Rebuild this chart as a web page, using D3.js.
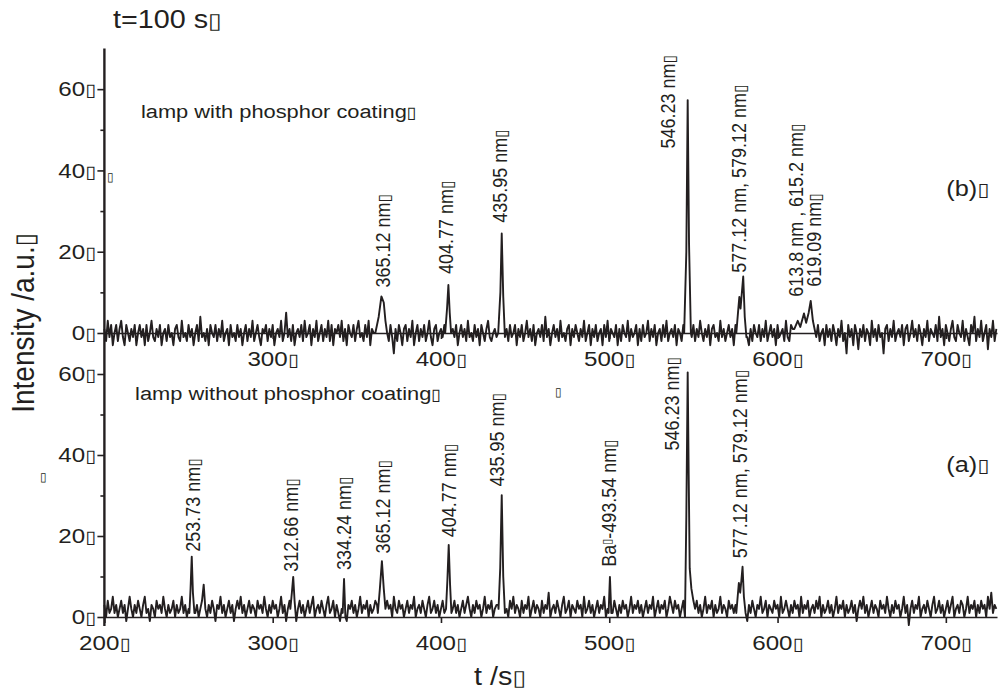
<!DOCTYPE html>
<html>
<head>
<meta charset="utf-8">
<script src="https://cdn.jsdelivr.net/npm/d3@7"></script>
<style>
  body { margin: 0; background: #fff; }
  svg { display: block; }
  text { font-family: "Liberation Sans", Arial, Helvetica, sans-serif; fill: #231f20; }
</style>
</head>
<body>
<svg id="chart" width="1003" height="690"></svg>
<script>
// noise baseline, one value per second starting at tStart
var tStart = 200;

var noiseB = [
  1,-2,3,-1,2,-3,0,2,-2,1,   3,-1,-3,2,0,-2,1,-1,2,-3,   0,2,-1,1,-3,2,-2,0,3,-1,
  -2,1,-1,2,-3,0,1,-2,2,-1,  0,-3,1,2,-1,-2,3,-1,0,-2,   2,-1,1,-3,0,2,-2,4,-1,0,
  -2,1,-3,2,0,-1,2,-2,1,-1,  3,-2,0,1,-3,2,-1,0,-2,2,    -1,1,-3,0,2,-2,1,-1,3,-2,
  0,2,-1,-3,1,0,2,-2,1,-1,   2,-3,0,1,-1,3,-2,0,5,-1,    1,-2,2,-3,0,1,-1,2,-2,3,
  -1,0,2,-3,1,-1,3,-2,0,2,   -2,1,-1,3,-2,2,-3,1,0,2,    -1,3,-2,1,-3,2,0,-1,2,-2,
  1,3,-1,0,-2,2,-1,3,-3,1,   0,2,1,3,4,4,3,1,1,-2,       2,-1,-5,1,-2,2,0,-3,1,2,
  -2,1,-1,3,-3,0,2,-2,1,-1,  2,-2,0,3,-1,-3,1,2,-2,0,    1,-1,2,0,5,3,-2,1,-1,2,
  -3,0,2,-1,1,-2,3,-1,0,-2,  2,-1,1,-3,2,0,-2,1,3,-1,    -2,0,1,-1,-3,2,6,3,-1,1,
  -2,2,-1,0,2,-3,1,-1,2,-2,  0,3,-1,1,-2,2,-3,0,1,-1,    2,-2,4,-1,1,-3,0,2,-1,1,
  -2,3,-1,0,-2,1,2,-3,1,-1,  2,0,-2,1,-1,3,-2,0,2,-3,    1,-1,2,-2,0,1,-3,2,-1,3,
  -2,1,0,-1,2,-3,1,-2,2,0,   -1,3,-2,1,-1,0,2,-3,1,-2,   2,-1,0,3,-2,1,-1,2,-3,0,
  1,-2,2,-1,3,-2,0,1,-1,2,   -3,1,0,-2,2,-1,3,2,1,-1,    2,-2,1,-1,3,0,-2,1,-1,2,
  -3,1,2,-1,0,-2,3,-1,1,-2,  0,2,-1,1,-3,2,0,1,2,3,      4,2,-1,-3,1,-2,2,0,-1,2,
  -2,1,-1,3,-2,0,2,-1,1,-3,  2,-1,0,1,-2,3,-1,-2,2,1,    0,2,3,2,4,5,3,2,4,7,
  6,3,1,-1,2,-2,0,1,-3,2,    -1,1,-2,2,0,-3,1,-1,3,-2,   0,-5,2,-1,1,-3,2,0,-4,1,
  -1,2,-2,1,0,-3,3,-1,1,-2,  2,-1,0,-5,1,2,-2,1,-1,3,    -2,0,1,-1,2,-3,1,2,-2,0,
  3,-1,1,-2,2,0,-3,1,-1,3,   -2,1,0,-1,2,-2,4,-1,1,-3,   2,0,-2,1,3,-1,-2,2,0,-1,
  3,-2,1,-1,-3,2,0,4,-2,1,   -1,3,-2,0,2,-4,1,-1,3,-2,   1
];

var noiseA = [
  3,0,4,1,2,5,1,3,0,2,       4,1,3,-1,2,5,2,0,3,1,       4,2,0,3,5,1,2,-1,3,2,
  0,4,2,3,1,5,2,0,3,1,       2,4,0,3,1,2,5,1,3,0,        2,4,3,3,1,3,0,2,4,8,
  2,0,3,1,4,2,-1,3,2,5,      1,3,0,2,4,1,3,-1,2,4,       2,5,1,3,0,2,4,1,3,2,
  0,4,2,3,1,5,2,0,3,1,       4,2,3,0,2,5,1,3,-1,2,       4,1,3,3,-2,2,4,1,3,0,
  2,4,1,3,5,0,2,3,1,4,       2,0,3,5,1,2,4,0,3,1,        -1,2,3,1,-1,3,2,4,1,3,
  0,2,5,1,3,2,4,0,3,1,       2,4,3,3,4,3,3,1,4,2,        3,0,5,2,1,4,2,3,0,2,
  4,1,3,2,5,0,2,3,1,4,       2,0,3,5,1,2,4,1,3,0,        2,4,1,3,3,3,3,2,4,1,
  3,0,2,4,1,3,5,2,0,3,       1,4,2,3,0,2,5,1,3,2,        4,0,2,3,3,3,4,1,3,2,
  0,4,2,5,1,3,2,0,4,1,       3,2,5,0,2,4,1,3,2,0,        4,1,3,2,6,0,2,3,1,4,
  2,0,3,5,1,2,4,0,3,2,       1,4,2,3,0,5,1,2,4,1,        3,0,2,4,1,3,2,5,0,2,
  3,3,1,4,2,0,3,1,4,2,       3,0,2,5,1,3,2,4,1,3,        0,2,4,1,3,2,5,0,2,4,
  1,3,2,4,0,2,5,3,1,4,       2,3,0,2,4,-2,3,3,3,6,       3,2,4,1,3,0,2,5,1,3,
  2,4,0,3,1,2,5,1,3,2,       0,4,2,3,1,3,5,3,3,3,        4,2,-1,3,1,4,2,0,3,2,
  5,1,2,4,0,3,2,1,4,2,       3,0,5,1,2,4,2,0,3,1,        4,2,3,0,5,1,3,2,4,0,
  2,3,1,4,2,5,0,3,1,2,       4,1,3,0,2,5,1,3,2,4,        0,3,1,2,4,1,3,-1,2,4,
  2,5,1,3,0,2,4,1,3,2,       0,4,2,3,1,5,2,0,3,1,        4,2,3,0,2,5,1,3,-2,2,
  4,1,3,2,5,0,2,3,1,4,       2,0,3,5,1,2,4,1,3,0,        2,4,1,3,5,0,2,3,1,4,
  3,0,2,5,1,3,2,4,0,3,       1,4,2,3,0,5,2,6,1,3,        2
];

// emission lines, [t, intensity] points that replace the baseline around them
var peaksB = [
  [[361,0],[363,4],[364.6,9],[366,7.5],[367,3],[368,0]],
  [[402.5,0],[403.6,6],[404.4,11.8],[405.2,5],[406,0]],
  [[434,0],[435.3,10],[436.1,24.5],[437,9],[438,-1]],
  [[544.5,0],[545.8,20],[546.6,57.3],[547.4,22],[548.5,0]],
  [[575.5,0],[576.5,5],[577.3,8.9],[578,6],[579.6,13.9],[580.5,4],[581.5,-1]],
  [[610,1],[612,3],[613.5,1.5],[615.7,4.8],[617,2.5],[618.5,5],[619.7,7.9],[621,3],[622.5,0]]
];

var peaksA = [
  [[250.5,1],[251.2,7],[251.9,14.9],[252.6,6],[253.5,1]],
  [[310.5,2],[311.4,6],[312.2,9.9],[313,4],[314,-1]],
  [[341.6,1],[342.4,9.4],[343.2,0]],
  [[362.5,1],[363.7,7],[364.9,13.8],[366,7],[367,2]],
  [[403,2],[403.8,9],[404.6,17.8],[405.4,8],[406.2,1]],
  [[434.2,2],[435.2,12],[436.1,30.1],[437,10],[438,1]],
  [[499.6,1],[500.4,9.9],[501.2,1]],
  [[545,0],[545.8,25],[546.6,60.4],[547.2,35],[547.8,12],[548.8,7],[550,4]],
  [[575.5,1],[576.3,5],[577,8.4],[577.8,6],[578.5,9],[579.2,12.4],[580,5],[581,1]]
];

// peak labels: text, t and intensity where the rotated text starts
var labelsB = [
  ["365.12 nm", 369.7, 11.2],
  ["404.77 nm", 407.1, 14.5],
  ["435.95 nm", 439.2, 27.1],
  ["546.23 nm", 539.0, 45.4],
  ["577.12 nm, 579.12 nm", 581.2, 14.8],
  ["613.8 nm , 615.2 nm", 615.0, 8.9],
  ["619.09 nm", 625.7, 11.4]
];

var labelsA = [
  ["253.73 nm", 256.8, 16.1],
  ["312.66 nm", 315.0, 11.2],
  ["334.24 nm", 346.8, 11.6],
  ["365.12 nm", 369.7, 15.7],
  ["404.77 nm", 409.2, 19.7],
  ["435.95 nm", 437.4, 32.2],
  ["Ba|-493.54 nm", 504.2, 12.4],
  ["546.23 nm", 541.4, 41.1],
  ["577.12 nm, 579.12 nm", 581.8, 14.5]
];

var xTicksTop = [300, 400, 500, 600, 700];
var xTicksBot = [200, 300, 400, 500, 600, 700];
var yTicks = [0, 20, 40, 60];
var yMinor = [10, 30, 50];

var BOX = "\u25AF";
var SX = 1.15; // glyphs in the figure are a bit wider than tall
var INK = "#231f20";

var svg = d3.select("#chart");

var x = d3.scaleLinear().domain([200, 730.4]).range([104.4, 997]);
var yTop = d3.scaleLinear().domain([0, 70]).range([333, 48.5]);
var yBot = d3.scaleLinear().domain([0, 60]).range([617, 374]);

function build(noise, peaks) {
  var pts = noise.map(function(v, i) { return [tStart + i, v]; });
  peaks.forEach(function(p) {
    var lo = p[0][0], hi = p[p.length - 1][0];
    pts = pts.filter(function(d) { return d[0] < lo || d[0] > hi; }).concat(p);
  });
  pts.sort(function(a, b) { return a[0] - b[0]; });
  return pts;
}

// move x/y into a transform so the glyphs can be widened
function stretch(sel, rot) {
  sel.each(function() {
    var t = d3.select(this);
    var tx = +t.attr("x") || 0, ty = +t.attr("y") || 0;
    t.attr("x", null).attr("y", null)
      .attr("transform", "translate(" + tx + "," + ty + ") scale(" + SX + ",1)" + (rot ? " rotate(" + rot + ")" : ""));
  });
}

function addBox(sel, size) {
  sel.append("tspan")
    .attr("font-family", "DejaVu Sans")
    .attr("font-size", size || "0.85em")
    .attr("fill", INK)
    .text(BOX);
}

// data lines
var panels = [
  {y: yTop, data: build(noiseB, peaksB), labels: labelsB},
  {y: yBot, data: build(noiseA, peaksA), labels: labelsA}
];

panels.forEach(function(p) {
  var line = d3.line()
    .x(function(d) { return x(d[0]); })
    .y(function(d) { return p.y(d[1]); });

  svg.append("path")
    .datum(p.data)
    .attr("fill", "none")
    .attr("stroke", INK)
    .attr("stroke-width", 1.9)
    .attr("stroke-linejoin", "round")
    .attr("d", line);
});

// x axes sit on the zero line of each panel
function xAxis(yScale, ticks) {
  var g = svg.append("g")
    .attr("class", "x axis")
    .attr("transform", "translate(0," + yScale(0) + ")")
    .call(d3.axisBottom(x).tickValues(ticks).tickSize(6).tickSizeOuter(0).tickPadding(12).tickFormat(d3.format("d")));
  g.select(".domain").attr("stroke", INK).attr("stroke-width", 1.4);
  g.selectAll(".tick line").attr("stroke", INK).attr("stroke-width", 1.6);
  var txt = g.selectAll(".tick text").attr("font-size", 21).attr("fill", INK)
    .attr("font-family", "Liberation Sans, Arial, sans-serif");
  addBox(txt);
  stretch(txt);
}
xAxis(yTop, xTicksTop);
xAxis(yBot, xTicksBot);

// y axes, one per panel, on a shared vertical line
function yAxis(yScale) {
  var g = svg.append("g")
    .attr("class", "y axis")
    .attr("transform", "translate(" + x(200) + ",0)")
    .call(d3.axisLeft(yScale).tickValues(yTicks).tickSize(7).tickPadding(1));
  g.select(".domain").remove();
  g.selectAll(".tick line").attr("stroke", INK).attr("stroke-width", 1.6);
  var txt = g.selectAll(".tick text").attr("font-size", 21).attr("fill", INK)
    .attr("font-family", "Liberation Sans, Arial, sans-serif");
  addBox(txt);
  stretch(txt);

  var m = svg.append("g")
    .attr("transform", "translate(" + x(200) + ",0)")
    .call(d3.axisLeft(yScale).tickValues(yMinor).tickSize(4).tickFormat(""));
  m.select(".domain").remove();
  m.selectAll(".tick line").attr("stroke", INK).attr("stroke-width", 1.6);
}
yAxis(yTop);
yAxis(yBot);

svg.append("line")
  .attr("x1", x(200)).attr("x2", x(200))
  .attr("y1", yTop(70)).attr("y2", yBot(-2.2))
  .attr("stroke", INK)
  .attr("stroke-width", 2.4);

// rotated peak labels
panels.forEach(function(p) {
  p.labels.forEach(function(l) {
    var t = svg.append("text")
      .attr("x", x(l[1]))
      .attr("y", p.y(l[2]))
      .attr("font-size", 18);
    var parts = l[0].split("|");
    t.append("tspan").text(parts[0]);
    if (parts.length > 1) {
      // superscript tofu after "Ba"
      t.append("tspan").attr("font-family", "DejaVu Sans").attr("font-size", "0.6em").attr("dy", "-0.45em").text(BOX);
      t.append("tspan").attr("dy", "0.27em").text(parts[1]);
    }
    addBox(t);
    stretch(t, -90);
  });
});

// annotations
var notes = [
  {text: "lamp with phosphor coating", t: 221.7, v: 52.9, y: yTop, size: 19},
  {text: "lamp without phosphor coating", t: 218.2, v: 53.6, y: yBot, size: 19},
  {text: "(b)", t: 700.3, v: 33.8, y: yTop, size: 22},
  {text: "(a)", t: 700.3, v: 35.8, y: yBot, size: 22}
];
notes.forEach(function(n) {
  var t = svg.append("text")
    .attr("x", x(n.t))
    .attr("y", n.y(n.v))
    .attr("font-size", n.size)
    .text(n.text);
  addBox(t);
  stretch(t);
});

// stray tofu marks left by the original export
var stray = [[201.6, 37.4, yTop], [161.7, 33.6, yBot], [467.7, 54.6, yBot]];
stray.forEach(function(s) {
  svg.append("text")
    .attr("x", x(s[0]))
    .attr("y", s[2](s[1]))
    .attr("font-family", "DejaVu Sans")
    .attr("font-size", 12)
    .text(BOX);
});

// titles
var title = svg.append("text").attr("x", 113).attr("y", 28).attr("font-size", 25).text("t=100 s");
addBox(title);
stretch(title);

var xl = svg.append("text").attr("x", 500).attr("y", 685).attr("font-size", 25)
  .attr("text-anchor", "middle").text("t /s");
addBox(xl);
stretch(xl);

var yl = svg.append("text").attr("x", 34).attr("y", 323).attr("font-size", 28)
  .attr("text-anchor", "middle").text("Intensity /a.u.");
addBox(yl);
stretch(yl, -90);
</script>
</body>
</html>
